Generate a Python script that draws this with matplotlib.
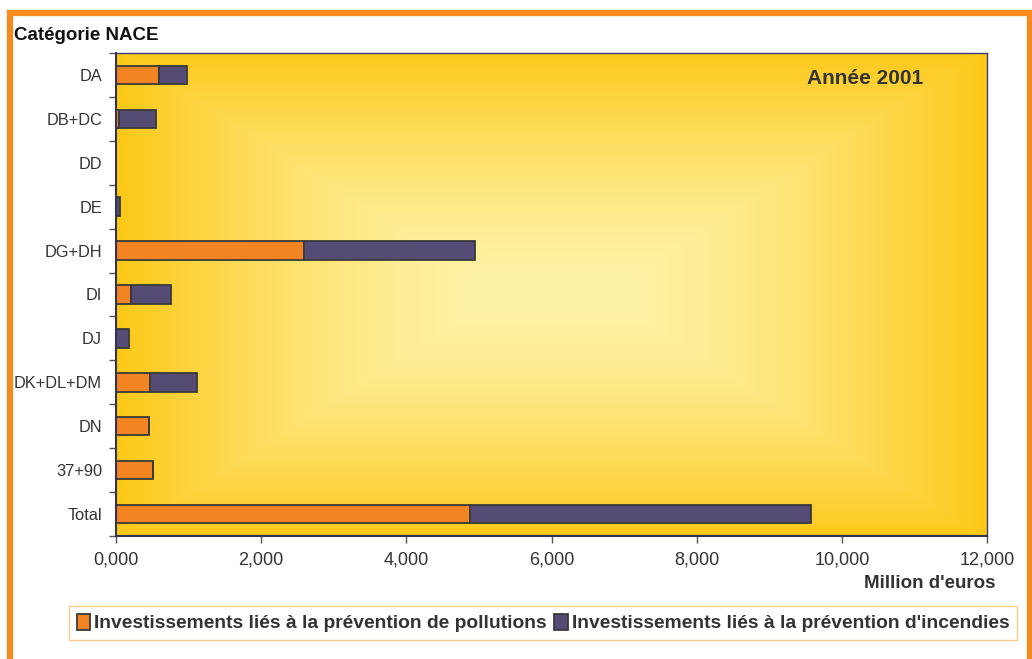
import numpy as np
import matplotlib.pyplot as plt
from matplotlib.patches import Rectangle

plt.rcParams['font.family'] = ['Liberation Sans', 'DejaVu Sans']

categories = ['DA', 'DB+DC', 'DD', 'DE', 'DG+DH', 'DI', 'DJ', 'DK+DL+DM', 'DN', '37+90', 'Total']
pollution = [590, 40, 0, 0, 2590, 205, 0, 470, 458, 510, 4880]
incendies = [390, 510, 0, 52, 2357, 550, 182, 648, 0, 0, 4700]
xticks = [0, 2000, 4000, 6000, 8000, 10000, 12000]
xticklabels = ['0,000', '2,000', '4,000', '6,000', '8,000', '10,000', '12,000']

col_poll = '#F28522'
col_inc = '#554C75'
txt = '#333333'

W, H = 1032, 659
fig = plt.figure(figsize=(W / 100, H / 100), dpi=100)

# orange frame around the whole chart
fig.patches.append(Rectangle((10 / W, -0.05), (1030 - 10) / W, (H - 13) / H + 0.05,
                             transform=fig.transFigure, fill=False,
                             edgecolor='#F58A1F', linewidth=4.5))

ax = fig.add_axes([116 / W, 1 - 536 / H, (987 - 116) / W, (536 - 53) / H])

# rectangular "from centre" gradient for the plot area
ny, nx = 200, 400
u = np.abs(np.linspace(-1, 1, nx))[None, :]
v = np.abs(np.linspace(-1, 1, ny))[:, None]
cu = 0.12
t = np.maximum((u - cu).clip(0) / (1 - cu), np.abs(v) * 0.98)
t = np.clip(t, 0, 1) ** 1.5
edge = np.array([253, 200, 22]) / 255
centre = np.array([255, 243, 168]) / 255
img = centre[None, None, :] * (1 - t[..., None]) + edge[None, None, :] * t[..., None]
ax.imshow(img, extent=[0, 12000, -0.5, len(categories) - 0.5], aspect='auto',
          origin='upper', zorder=0)

y = np.arange(len(categories))
ax.barh(y, pollution, height=0.42, color=col_poll, edgecolor='#3a3a3a', linewidth=1.3,
        label='Investissements liés à la prévention de pollutions', zorder=2)
ax.barh(y, incendies, left=pollution, height=0.42, color=col_inc, edgecolor='#3a3a3a',
        linewidth=1.3, label="Investissements liés à la prévention d'incendies", zorder=2)

ax.set_xlim(0, 12000)
ax.set_ylim(len(categories) - 0.5, -0.5)
ax.set_xticks(xticks)
ax.set_xticklabels(xticklabels)
ax.set_yticks(y)
ax.set_yticklabels(categories)
ax.set_yticks(np.arange(len(categories) + 1) - 0.5, minor=True)
ax.tick_params(axis='y', which='major', length=0, pad=10, labelsize=11.8, labelcolor=txt)
ax.tick_params(axis='y', which='minor', length=5, width=1, color='#555555')
ax.tick_params(axis='x', length=5, width=1, color='#555555', labelsize=13,
               labelcolor=txt, pad=6)
for s in ax.spines.values():
    s.set_color('#3c3c78')
    s.set_linewidth(1)
ax.spines['left'].set_color('#333355')
ax.spines['bottom'].set_color('#333355')
ax.spines['left'].set_linewidth(1.5)
ax.spines['bottom'].set_linewidth(1.5)

ax.text(0.927, 0.947, 'Année 2001', transform=ax.transAxes, ha='right', va='center',
        fontsize=15, fontweight='bold', color=txt)

fig.text(14 / W, 1 - 35 / H, 'Catégorie NACE', ha='left', va='center', fontsize=13.5,
         fontweight='bold', color='#111111')
fig.text(995 / W, 1 - 583 / H, "Million d'euros", ha='right', va='center', fontsize=13.5,
         fontweight='bold', color=txt)

leg = fig.legend(loc='center', bbox_to_anchor=(543 / W, 1 - 623 / H), ncol=2,
                 frameon=True, fancybox=False, handlelength=0.7,
                 handleheight=0.9, handletextpad=0.2, columnspacing=0.4,
                 borderpad=0.4, borderaxespad=0, prop={'weight': 'bold', 'size': 13.9})
leg.get_frame().set_edgecolor('#F8C070')
leg.get_frame().set_linewidth(1)
for t_ in leg.get_texts():
    t_.set_color(txt)

fig.savefig('out.png', dpi=100)
